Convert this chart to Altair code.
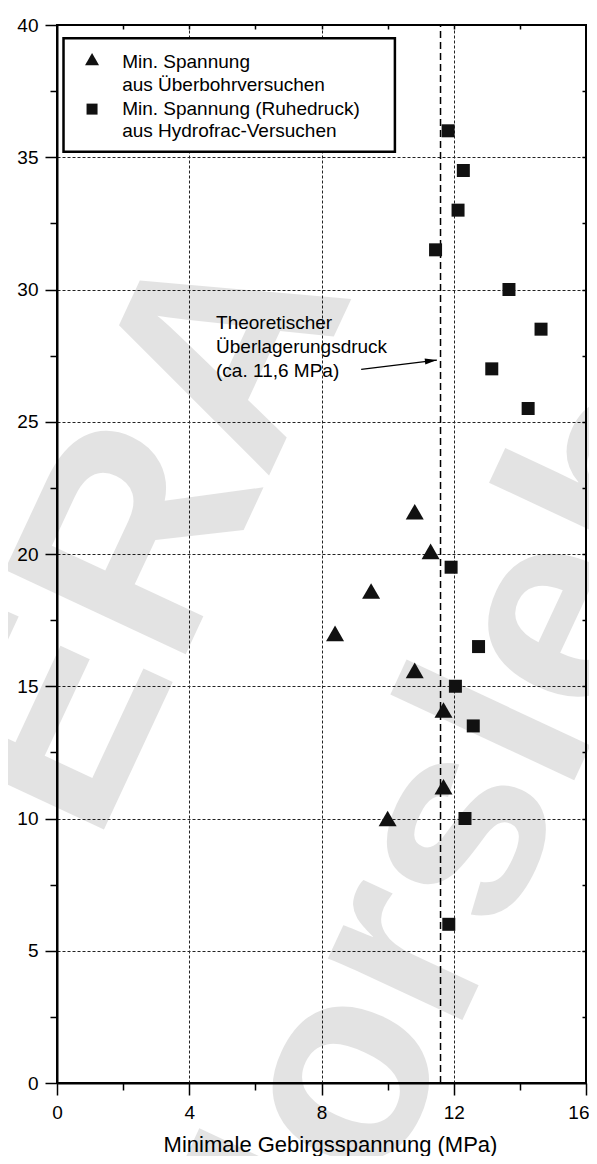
import altair as alt
import pandas as pd

# ---- data ----
tri_x = [10.82, 11.30, 9.50, 8.41, 10.82, 11.69, 11.69, 10.00]
tri_y = [21.6, 20.1, 18.6, 17.0, 15.6, 14.1, 11.2, 10.0]

sq_x = [11.83, 12.29, 12.13, 11.45, 13.67, 14.64, 13.15, 14.25, 11.92, 12.75, 12.05, 12.59, 12.34, 11.85]
sq_y = [36.0, 34.5, 33.0, 31.5, 30.0, 28.5, 27.0, 25.5, 19.5, 16.5, 15.0, 13.5, 10.0, 6.0]

overburden = 11.6
x_ticks = [0, 2, 4, 6, 8, 10, 12, 14, 16]
y_ticks = [0, 2.5, 5, 7.5, 10, 12.5, 15, 17.5, 20, 22.5, 25, 27.5, 30, 32.5, 35, 37.5, 40]

legend_labels = ["Min. Spannung\naus Überbohrversuchen",
                 "Min. Spannung (Ruhedruck)\naus Hydrofrac-Versuchen"]
legend_sym_x = [1.06, 1.06]
legend_sym_y = [38.71, 36.82]
legend_txt_x = [1.97, 1.97]
legend_txt_y = [38.37, 36.60]
legend_box = dict(x=[0.197], x2=[10.22], y=[39.5], y2=[35.21])

annot_text = ["Theoretischer\nÜberlagerungsdruck\n(ca. 11,6 MPa)"]
annot_x = [4.81]
annot_y = [28.5]
arrow_x = [9.20]
arrow_y = [26.98]
arrow_x2 = [11.49]
arrow_y2 = [27.33]

wm_text = ["ERA", "Morsleben"]
wm_x = [2.7, 13.49]
wm_y = [20.8, 13.19]
wm_size = [290, 280]

FONT = "Liberation Sans"
xs = alt.Scale(domain=[0, 16], nice=False, zero=False)
ys = alt.Scale(domain=[0, 40], nice=False, zero=False)

x_axis = alt.Axis(
    values=x_ticks,
    tickSize={"condition": {"test": "datum.value % 4 === 0", "value": 12}, "value": 7},
    labelExpr="datum.value % 4 === 0 ? datum.label : ''",
    labelAlign={"condition": {"test": "datum.value === 16", "value": "right"}, "value": "center"},
    labelOffset={"condition": {"test": "datum.value === 16", "value": 3}, "value": 0},
    grid=True, gridDash=[3, 2], gridColor="#222", gridWidth=1,
    gridOpacity={"condition": {"test": "datum.value % 4 === 0 && datum.value > 0 && datum.value < 16", "value": 1}, "value": 0},
    domainColor="black", domainWidth=2, tickColor="black", tickWidth=1.5,
    labelFontSize=19, labelPadding=8, labelColor="black", labelFont=FONT,
    labelOverlap=False, labelFlush=False, labelBound=False,
    title="Minimale Gebirgsspannung (MPa)", titleFontSize=22, titleFontWeight="normal",
    titleFont=FONT, titleColor="black", titleX=273, titleY=68,
    titleBaseline="alphabetic", titleAlign="center",
)
y_axis = alt.Axis(
    values=y_ticks,
    tickSize={"condition": {"test": "datum.value % 5 === 0", "value": 12}, "value": 7},
    labelExpr="datum.value % 5 === 0 ? datum.label : ''",
    grid=True, gridDash=[3, 2], gridColor="#222", gridWidth=1,
    gridOpacity={"condition": {"test": "datum.value % 5 === 0 && datum.value > 0 && datum.value < 40", "value": 1}, "value": 0},
    domainColor="black", domainWidth=2, tickColor="black", tickWidth=1.5,
    labelFontSize=19, labelPadding=7, labelColor="black", labelFont=FONT,
    labelOverlap=False, labelBound=False, labelFlush=False, title=None,
)
top_axis = alt.Axis(orient="top", values=x_ticks[1:-1], tickSize=4, offset=-4,
                    domain=False, labels=False, grid=False, tickColor="black",
                    tickWidth=1.5, title=None)
right_axis = alt.Axis(orient="right", values=y_ticks[1:-1], tickSize=4, offset=-4,
                      domain=False, labels=False, grid=False, tickColor="black",
                      tickWidth=1.5, title=None)

# watermark
wm_df = pd.DataFrame({"x": wm_x, "y": wm_y, "t": wm_text, "s": wm_size})
watermark = alt.Chart(wm_df).mark_text(
    font=FONT, fontWeight="bold", angle=295, color="black",
    opacity=0.105, align="center", baseline="middle"
).encode(
    x=alt.X("x:Q", scale=xs, axis=None), y=alt.Y("y:Q", scale=ys, axis=None), text="t:N",
    size=alt.Size("s:Q", scale=None, legend=None),
)

# overburden line (carries top/right axes)
ob_df = pd.DataFrame({"x": [overburden], "y0": [0], "y1": [40]})
ob_line = alt.Chart(ob_df).mark_rule(color="black", strokeWidth=1.5, strokeDash=[7, 4]).encode(
    x=alt.X("x:Q", scale=xs, axis=top_axis),
    y=alt.Y("y0:Q", scale=ys, axis=right_axis), y2="y1:Q",
)

tri_df = pd.DataFrame({"x": tri_x, "y": tri_y})
sq_df = pd.DataFrame({"x": sq_x, "y": sq_y})

triangles = alt.Chart(tri_df).mark_point(shape="triangle-up", filled=True, color="#111",
                                         size=324, opacity=1).encode(
    x=alt.X("x:Q", scale=xs, axis=x_axis), y=alt.Y("y:Q", scale=ys, axis=y_axis)
)
squares = alt.Chart(sq_df).mark_point(shape="square", filled=True, color="#111",
                                      size=169, opacity=1).encode(
    x=alt.X("x:Q", scale=xs, axis=None), y=alt.Y("y:Q", scale=ys, axis=None)
)

# legend box
box = alt.Chart(pd.DataFrame(legend_box)).mark_rect(fill="white", stroke="black", strokeWidth=2.5).encode(
    x=alt.X("x:Q", scale=xs, axis=None), x2="x2:Q",
    y=alt.Y("y:Q", scale=ys, axis=None), y2="y2:Q",
)
leg_tri = alt.Chart(pd.DataFrame({"x": legend_sym_x[:1], "y": legend_sym_y[:1]})).mark_point(
    shape="triangle-up", filled=True, color="#111", size=196, opacity=1).encode(
    x=alt.X("x:Q", scale=xs, axis=None), y=alt.Y("y:Q", scale=ys, axis=None))
leg_sq = alt.Chart(pd.DataFrame({"x": legend_sym_x[1:], "y": legend_sym_y[1:]})).mark_point(
    shape="square", filled=True, color="#111", size=121, opacity=1).encode(
    x=alt.X("x:Q", scale=xs, axis=None), y=alt.Y("y:Q", scale=ys, axis=None))
leg_txt = alt.Chart(pd.DataFrame({"x": legend_txt_x, "y": legend_txt_y, "t": legend_labels})).mark_text(
    font=FONT, fontSize=19, color="black", align="left", baseline="alphabetic",
    lineBreak="\n", lineHeight=22.5).encode(
    x=alt.X("x:Q", scale=xs, axis=None), y=alt.Y("y:Q", scale=ys, axis=None), text="t:N")

# annotation
ann = alt.Chart(pd.DataFrame({"x": annot_x, "y": annot_y, "t": annot_text})).mark_text(
    font=FONT, fontSize=19, color="black", align="left", baseline="alphabetic",
    lineBreak="\n", lineHeight=23.7).encode(
    x=alt.X("x:Q", scale=xs, axis=None), y=alt.Y("y:Q", scale=ys, axis=None), text="t:N")
arrow_df = pd.DataFrame({"x": arrow_x, "y": arrow_y, "x2": arrow_x2, "y2": arrow_y2})
arrow = alt.Chart(arrow_df).mark_rule(color="black", strokeWidth=1.3).encode(
    x=alt.X("x:Q", scale=xs, axis=None), y=alt.Y("y:Q", scale=ys, axis=None),
    x2="x2:Q", y2="y2:Q")
head = alt.Chart(arrow_df).mark_point(shape="M0,0L-1,-0.25L-1,0.25Z", filled=True, color="black",
                                      size=576, angle=353, opacity=1).encode(
    x=alt.X("x2:Q", scale=xs, axis=None), y=alt.Y("y2:Q", scale=ys, axis=None))

chart = alt.layer(
    watermark, ob_line, triangles, squares, box, leg_tri, leg_sq, leg_txt, ann, arrow, head
).resolve_axis(x="independent", y="independent").properties(
    width=529, height=1058,
    autosize=alt.AutoSizeParams(type="none"),
    padding={"left": 49, "top": 17, "right": 3, "bottom": 73},
).configure(font=FONT).configure_view(stroke="black", strokeWidth=2)

chart.save("out.html", embed_options={"renderer": "svg", "actions": False})
